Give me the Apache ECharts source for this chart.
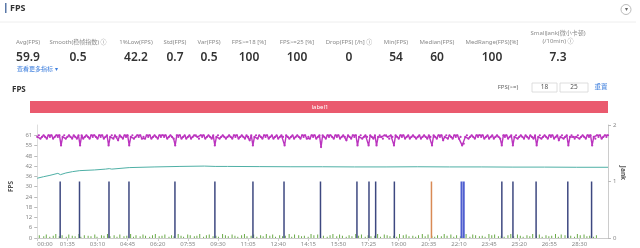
<!DOCTYPE html>
<html><head><meta charset="utf-8">
<script src="https://cdn.jsdelivr.net/npm/echarts@6/dist/echarts.min.js"></script>
<style>html,body{margin:0;padding:0;background:#fff}#c{width:640px;height:248px}</style>
</head><body><div id="c"></div>
<script>
// ---------- DATA ----------
const metricLabels = ['Avg(FPS)','Smooth(稳帧指数) ⓘ','1%Low(FPS)','Std(FPS)','Var(FPS)','FPS>=18 [%]','FPS>=25 [%]','Drop(FPS) [/h] ⓘ','Min(FPS)','Median(FPS)','MedRange(FPS)[%]','SmallJank(微小卡顿)\n(/10min) ⓘ'];
const metricValues = ['59.9','0.5','42.2','0.7','0.5','100','100','0','54','60','100','7.3'];
const leftTickLabels = ['0','6','12','18','24','30','36','42','48','55','61'];
const rightTickLabels = ['0','1','2'];
const fpsStepSec = 5; // FPS sampled every 5 s
const fpsValues = [
60,61,59,60,61,60,59,61,60,61,59,60,61,60,61,55,60,61,59,60,
61,60,59,61,60,59,61,55,61,59,60,61,60,59,61,60,61,60,59,61,
60,61,59,60,61,55,60,61,59,61,60,58,61,60,59,61,60,61,55,60,
61,59,60,61,60,61,59,60,59,61,60,61,59,60,61,60,59,61,60,61,
60,61,59,60,61,60,59,55,61,60,61,59,60,61,59,60,61,59,60,61,
61,60,59,61,60,61,59,60,61,60,59,61,55,60,61,59,60,61,60,59,
60,61,60,59,61,60,61,59,60,61,60,59,61,60,58,61,55,60,61,59,
61,60,59,61,60,61,59,60,61,59,60,61,59,60,61,60,55,61,60,59,
60,61,59,60,61,60,59,61,60,61,59,60,59,61,60,61,59,60,61,54,
61,60,59,61,60,61,60,59,61,60,61,59,60,61,60,58,61,60,59,61,
60,61,55,60,61,59,60,61,60,55,61,60,59,61,55,60,61,60,59,61,
61,60,59,61,60,55,61,60,59,61,60,61,59,60,61,59,60,61,60,59,
60,61,59,60,61,60,59,61,60,55,61,60,59,61,60,61,58,60,61,59,
61,60,59,61,60,61,59,60,55,56,60,61,59,60,61,60,59,61,60,61,
60,61,59,60,61,59,60,61,59,60,61,60,59,55,61,60,61,59,60,61,
55,60,61,59,60,61,60,59,61,60,59,61,60,59,61,55,60,61,59,60,
61,60,59,61,60,61,59,60,61,58,60,61,59,60,61,55,60,61,60,59,
60,61,59,60,61,60,59,61,60,61,55,60,59,61,60,61,59,60,61,60,
61];
const lowTimes  = [0,20,40,65,73,90,111,134,140,180,215,227,235,290,371,450,527,561,600,700,800,900,1000,1100,1200,1300,1400,1500,1600,1700,1800];
const lowValues = [35.5,36.4,37.2,38.4,37.6,38.6,39.4,40.0,39.8,40.4,40.9,41.2,40.9,41.8,42.2,42.5,42.7,42.5,42.5,42.4,42.3,42.3,42.2,42.2,42.3,42.2,42.2,42.1,42.1,42.0,42.0];
const jankTimes = [73,134,227,290,435,561,681,779,894,1009,1047,1068,1127,1466,1501,1574,1674,1749];
const jankOrangeTimes = [1244];
const jankBlueTimes = [1338,1345];
const smallTimes = [8,22,30,41,52,60,71,80,93,101,112,121,133,139,150,162,171,183,190,204,212,223,231,244,253,262,275,284,296,305,313,326,335,343,356,365,374,386,395,404,417,425,433,446,455,463,476,484,497,505,514,526,535,544,556,565,573,586,595,604,616,625,634,646,655,663,676,684,694,706,714,724,735,744,753,766,775,784,796,804,813,826,835,844,856,865,874,886,895,904,916,925,934,946,955,964,976,985,994,1006,1015,1024,1036,1045,1054,1066,1075,1084,1096,1105,1114,1126,1135,1144,1156,1165,1174,1186,1195,1204,1216,1225,1234,1246,1255,1264,1276,1285,1294,1306,1315,1324,1336,1345,1354,1366,1375,1384,1396,1405,1414,1426,1435,1444,1456,1465,1474,1486,1495,1504,1516,1525,1534,1546,1555,1564,1576,1585,1594,1606,1615,1624,1636,1645,1654,1666,1675,1684,1696,1705,1714,1726,1735,1744,1756,1765,1774,1786,1795];
const smallHeights = [0.05,0.03,0.06,0.02,0.04,0.07,0.03,0.05,0.02,0.06,0.04,0.03,0.07,0.02,0.05,0.04,0.03,0.06,0.02,0.05,0.04,0.07,0.03,0.05,0.02,0.06,0.03,0.04,0.07,0.02,0.05,0.03,0.06,0.04,0.02,0.05,0.07,0.03,0.04,0.06,0.02,0.05,0.03,0.07,0.04,0.02,0.06,0.05,0.03,0.04,0.07,0.02,0.05,0.06,0.03,0.04,0.02,0.07,0.05,0.03,0.06,0.04,0.02,0.05,0.07,0.03,0.04,0.06,0.02,0.05,0.03,0.07,0.04,0.06,0.02,0.05,0.03,0.04,0.07,0.02,0.06,0.05,0.03,0.04,0.02,0.07,0.05,0.06,0.03,0.04,0.02,0.05,0.07,0.03,0.06,0.04,0.02,0.05,0.03,0.07,0.04,0.06,0.02,0.05,0.03,0.04,0.07,0.02,0.06,0.05,0.03,0.04,0.02,0.07,0.05,0.06,0.03,0.04,0.02,0.05,0.07,0.03,0.06,0.04,0.02,0.05,0.03,0.07,0.04,0.06,0.02,0.05,0.03,0.04,0.07,0.02,0.06,0.05,0.03,0.04,0.02,0.07,0.05,0.06,0.03,0.04,0.02,0.05,0.07,0.03,0.06,0.04,0.02,0.05,0.03,0.07,0.04,0.06,0.02,0.05,0.03,0.04,0.07,0.02,0.06,0.05,0.03,0.04,0.02,0.07,0.05,0.06,0.03,0.04,0.02,0.05];

// ---------- CHART ----------
const FONT = '"Noto Sans","Noto Sans CJK SC",sans-serif';
const chart = echarts.init(document.getElementById('c'), null, {renderer:'canvas'});
const fpsData = fpsValues.map((v,i)=>[i*fpsStepSec, v]);
const lowData = lowTimes.map((t,i)=>[t, lowValues[i]]);
const jank = a => a.map(t=>[t,1]);
const smallData = smallTimes.map((t,i)=>[t, smallHeights[i]]);
const mmss = v => { const m=Math.floor(v/60), s=Math.round(v%60); return String(m).padStart(2,'0')+':'+String(s).padStart(2,'0'); };

const metricX = [28,78,136,175,209,249,297,349,396,437,492,558];
const g = [];
g.push({type:'rect',shape:{x:5,y:3,width:1.5,height:10},style:{fill:'#5a78a8'}});
g.push({type:'text',x:10,y:8,style:{text:'FPS',font:'bold 9px '+FONT,fill:'#333',verticalAlign:'middle'}});
g.push({type:'line',shape:{x1:0,y1:22,x2:636,y2:22},style:{stroke:'#eeeeee',lineWidth:1}});
g.push({type:'circle',shape:{cx:626,cy:9.5,r:5},style:{fill:'#fff',stroke:'#aaa',lineWidth:0.8}});
g.push({type:'text',x:626,y:9.5,style:{text:'▾',font:'6px '+FONT,fill:'#666',align:'center',verticalAlign:'middle'}});
metricLabels.forEach((t,i)=>{
  const two = t.indexOf('\n')>=0;
  g.push({type:'text',x:metricX[i],y: two?37.5:42,style:{text:t,font:'6px '+FONT,fill:'#8a8a8a',align:'center',verticalAlign:'middle',lineHeight:8.5}});
  g.push({type:'text',x:metricX[i],y:58,style:{text:metricValues[i],font:'600 12px '+FONT,fill:'#333',align:'center',verticalAlign:'middle'}});
});
g.push({type:'text',x:17,y:69,style:{text:'查看更多指标 ▾',font:'6px '+FONT,fill:'#3b7ddd',verticalAlign:'middle'}});
g.push({type:'text',x:12,y:90,style:{text:'FPS',font:'bold 8px '+FONT,fill:'#333',verticalAlign:'middle'}});
g.push({type:'text',x:508,y:87.5,style:{text:'FPS(>=)',font:'6px '+FONT,fill:'#666',align:'center',verticalAlign:'middle'}});
g.push({type:'rect',shape:{x:532,y:83,width:25,height:9},style:{fill:'#fff',stroke:'#d6d6d6',lineWidth:0.8}});
g.push({type:'text',x:544.5,y:87.5,style:{text:'18',font:'6.5px '+FONT,fill:'#555',align:'center',verticalAlign:'middle'}});
g.push({type:'rect',shape:{x:560,y:83,width:28,height:9},style:{fill:'#fff',stroke:'#d6d6d6',lineWidth:0.8}});
g.push({type:'text',x:574,y:87.5,style:{text:'25',font:'6.5px '+FONT,fill:'#555',align:'center',verticalAlign:'middle'}});
g.push({type:'text',x:601,y:87.5,style:{text:'重置',font:'6.5px '+FONT,fill:'#3b7ddd',align:'center',verticalAlign:'middle'}});
g.push({type:'rect',shape:{x:30,y:101,width:578,height:12},style:{fill:'#ea5a6e'}});
g.push({type:'text',x:320,y:107,style:{text:'label1',font:'6px '+FONT,fill:'#fff',align:'center',verticalAlign:'middle'}});
// right axis title
g.push({type:'text',x:623,y:173,rotation:-Math.PI/2,style:{text:'Jank',font:'bold 6.5px '+FONT,fill:'#555',align:'center',verticalAlign:'middle'}});

const leftTicks = leftTickLabels.map((_,i)=>Math.round(i*6.1*10)/10);

chart.setOption({
  animation:false,
  backgroundColor:'#fff',
  graphic:g,
  grid:{left:31,right:32,top:125,bottom:10},
  xAxis:{type:'value',min:0,max:1800,interval:95,
    axisLine:{show:true,lineStyle:{color:'#cccccc'}},
    axisTick:{show:true,length:3,lineStyle:{color:'#cccccc'}},
    splitLine:{show:false},
    axisLabel:{fontSize:6,color:'#888',margin:3,fontFamily:FONT,formatter:mmss,alignMinLabel:'left',showMaxLabel:false}},
  yAxis:[
    {type:'value',min:0,max:67.1,name:'FPS',nameLocation:'middle',nameGap:18,
      nameTextStyle:{fontSize:6.5,color:'#555',fontWeight:'bold',fontFamily:FONT,padding:[0,0,0,-10]},
      axisLine:{show:true,lineStyle:{color:'#dddddd'}},
      axisTick:{show:true,length:3,customValues:leftTicks,lineStyle:{color:'#bbbbbb'}},
      splitLine:{show:false},
      axisLabel:{customValues:leftTicks,fontSize:6,color:'#888',margin:5,fontFamily:FONT,
        formatter:v=>leftTickLabels[Math.round(v/6.1)]}},
    {type:'value',min:0,max:2,interval:1,
      axisLine:{show:true,lineStyle:{color:'#cccccc'}},
      axisTick:{show:true,length:3,lineStyle:{color:'#bbbbbb'}},
      splitLine:{show:false},
      axisLabel:{fontSize:6,color:'#888',margin:5,fontFamily:FONT,formatter:v=>rightTickLabels[v]}}
  ],
  series:[
    {type:'bar',yAxisIndex:1,data:smallData,barWidth:1,itemStyle:{color:'#6aaa48'},silent:true,z:2},
    {type:'bar',yAxisIndex:1,data:jank(jankTimes),barWidth:1.5,barGap:'-100%',itemStyle:{color:'#3d4880'},z:3},
    {type:'bar',yAxisIndex:1,data:jank(jankOrangeTimes),barWidth:1.5,barGap:'-100%',itemStyle:{color:'#d98a55'},z:3},
    {type:'bar',yAxisIndex:1,data:jank(jankBlueTimes),barWidth:2,barGap:'-100%',itemStyle:{color:'#4f5fd0'},z:3},
    {type:'line',yAxisIndex:0,data:lowData,showSymbol:false,lineStyle:{color:'#4fb0a6',width:1},z:4},
    {type:'line',yAxisIndex:0,data:fpsData,symbol:'circle',symbolSize:2.2,showAllSymbol:true,
      itemStyle:{color:'#bb35bf'},lineStyle:{color:'#bb35bf',width:1.4},z:5}
  ]
});
</script></body></html>
